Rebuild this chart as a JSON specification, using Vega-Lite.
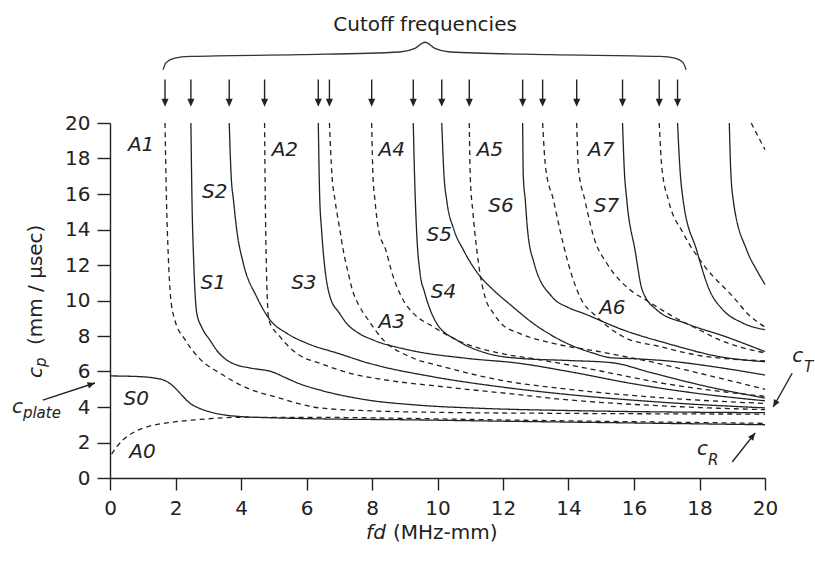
{
  "$schema": "https://vega.github.io/schema/vega-lite/v6.json",
  "width": 655,
  "height": 355,
  "autosize": {"type": "none"},
  "padding": {"left": 110, "top": 123, "right": 50, "bottom": 84},
  "background": "white",
  "config": {
    "view": {"stroke": null},
    "font": "DejaVu Sans",
    "text": {"font": "DejaVu Sans", "color": "#222"},
    "axis": {"labelOverlap": false, "labelSeparation": 0, "labelBound": false, "labelFlush": false, "grid": false},
    "axisY": {"labelOverlap": false, "tickCount": 11}
  },
  "datasets": {
    "curves": [
      {"mode":"S0","family":"S","x":0,"y":5.75},{"mode":"S0","family":"S","x":0.8,"y":5.72},{"mode":"S0","family":"S","x":1.4,"y":5.62},{"mode":"S0","family":"S","x":1.75,"y":5.42},{"mode":"S0","family":"S","x":2.0,"y":5.05},{"mode":"S0","family":"S","x":2.2,"y":4.65},{"mode":"S0","family":"S","x":2.45,"y":4.2},{"mode":"S0","family":"S","x":2.7,"y":3.95},{"mode":"S0","family":"S","x":3.0,"y":3.75},{"mode":"S0","family":"S","x":3.5,"y":3.55},{"mode":"S0","family":"S","x":4.0,"y":3.46},{"mode":"S0","family":"S","x":5.0,"y":3.39},{"mode":"S0","family":"S","x":6.4,"y":3.33},{"mode":"S0","family":"S","x":9,"y":3.28},{"mode":"S0","family":"S","x":12,"y":3.2},{"mode":"S0","family":"S","x":16,"y":3.1},{"mode":"S0","family":"S","x":20,"y":3.0},
      {"mode":"A0","family":"A","x":0.05,"y":1.35},{"mode":"A0","family":"A","x":0.2,"y":1.75},{"mode":"A0","family":"A","x":0.4,"y":2.15},{"mode":"A0","family":"A","x":0.8,"y":2.65},{"mode":"A0","family":"A","x":1.2,"y":2.92},{"mode":"A0","family":"A","x":1.73,"y":3.1},{"mode":"A0","family":"A","x":2.75,"y":3.3},{"mode":"A0","family":"A","x":4.0,"y":3.42},{"mode":"A0","family":"A","x":6,"y":3.42},{"mode":"A0","family":"A","x":9,"y":3.36},{"mode":"A0","family":"A","x":12,"y":3.27},{"mode":"A0","family":"A","x":16,"y":3.17},{"mode":"A0","family":"A","x":20,"y":3.08},
      {"mode":"A1","family":"A","x":1.68,"y":20},{"mode":"A1","family":"A","x":1.72,"y":16},{"mode":"A1","family":"A","x":1.78,"y":12.5},{"mode":"A1","family":"A","x":1.85,"y":10.2},{"mode":"A1","family":"A","x":1.98,"y":8.9},{"mode":"A1","family":"A","x":2.29,"y":7.8},{"mode":"A1","family":"A","x":2.75,"y":6.7},{"mode":"A1","family":"A","x":3.36,"y":5.9},{"mode":"A1","family":"A","x":4.27,"y":5.0},{"mode":"A1","family":"A","x":5.0,"y":4.6},{"mode":"A1","family":"A","x":6.4,"y":3.95},{"mode":"A1","family":"A","x":8,"y":3.78},{"mode":"A1","family":"A","x":10,"y":3.7},{"mode":"A1","family":"A","x":14,"y":3.64},{"mode":"A1","family":"A","x":20,"y":3.6},
      {"mode":"S1","family":"S","x":2.47,"y":20},{"mode":"S1","family":"S","x":2.5,"y":16},{"mode":"S1","family":"S","x":2.56,"y":12},{"mode":"S1","family":"S","x":2.65,"y":9.28},{"mode":"S1","family":"S","x":2.8,"y":8.5},{"mode":"S1","family":"S","x":3.05,"y":7.77},{"mode":"S1","family":"S","x":3.3,"y":7.1},{"mode":"S1","family":"S","x":3.56,"y":6.65},{"mode":"S1","family":"S","x":3.9,"y":6.35},{"mode":"S1","family":"S","x":4.27,"y":6.2},{"mode":"S1","family":"S","x":5.0,"y":5.95},{"mode":"S1","family":"S","x":5.3,"y":5.7},{"mode":"S1","family":"S","x":5.8,"y":5.3},{"mode":"S1","family":"S","x":6.4,"y":4.96},{"mode":"S1","family":"S","x":7.84,"y":4.4},{"mode":"S1","family":"S","x":9.37,"y":4.11},{"mode":"S1","family":"S","x":11.4,"y":3.92},{"mode":"S1","family":"S","x":14,"y":3.8},{"mode":"S1","family":"S","x":17,"y":3.72},{"mode":"S1","family":"S","x":20,"y":3.68},
      {"mode":"A2","family":"A","x":4.72,"y":20},{"mode":"A2","family":"A","x":4.74,"y":16},{"mode":"A2","family":"A","x":4.78,"y":11.5},{"mode":"A2","family":"A","x":4.85,"y":8.9},{"mode":"A2","family":"A","x":5.19,"y":7.96},{"mode":"A2","family":"A","x":5.8,"y":6.9},{"mode":"A2","family":"A","x":6.41,"y":6.46},{"mode":"A2","family":"A","x":7.33,"y":5.9},{"mode":"A2","family":"A","x":8.5,"y":5.5},{"mode":"A2","family":"A","x":9.87,"y":5.2},{"mode":"A2","family":"A","x":12.1,"y":4.77},{"mode":"A2","family":"A","x":14,"y":4.4},{"mode":"A2","family":"A","x":17,"y":4.05},{"mode":"A2","family":"A","x":20,"y":3.85},
      {"mode":"S2","family":"S","x":3.64,"y":20},{"mode":"S2","family":"S","x":3.7,"y":17},{"mode":"S2","family":"S","x":3.77,"y":15.66},{"mode":"S2","family":"S","x":3.87,"y":13.97},{"mode":"S2","family":"S","x":4.07,"y":12.1},{"mode":"S2","family":"S","x":4.48,"y":10.2},{"mode":"S2","family":"S","x":4.89,"y":8.9},{"mode":"S2","family":"S","x":5.4,"y":8.15},{"mode":"S2","family":"S","x":6.0,"y":7.6},{"mode":"S2","family":"S","x":7.0,"y":7.0},{"mode":"S2","family":"S","x":7.84,"y":6.5},{"mode":"S2","family":"S","x":9.87,"y":5.7},{"mode":"S2","family":"S","x":11.9,"y":5.14},{"mode":"S2","family":"S","x":14,"y":4.7},{"mode":"S2","family":"S","x":17,"y":4.25},{"mode":"S2","family":"S","x":20,"y":3.95},
      {"mode":"S3","family":"S","x":6.36,"y":20},{"mode":"S3","family":"S","x":6.4,"y":16},{"mode":"S3","family":"S","x":6.46,"y":13.97},{"mode":"S3","family":"S","x":6.55,"y":12},{"mode":"S3","family":"S","x":6.72,"y":10.2},{"mode":"S3","family":"S","x":7.0,"y":9.3},{"mode":"S3","family":"S","x":7.23,"y":8.7},{"mode":"S3","family":"S","x":7.6,"y":8.15},{"mode":"S3","family":"S","x":8.04,"y":7.77},{"mode":"S3","family":"S","x":9.16,"y":7.2},{"mode":"S3","family":"S","x":10.9,"y":6.74},{"mode":"S3","family":"S","x":12.5,"y":6.46},{"mode":"S3","family":"S","x":14,"y":6.0},{"mode":"S3","family":"S","x":16,"y":5.3},{"mode":"S3","family":"S","x":18,"y":4.75},{"mode":"S3","family":"S","x":20,"y":4.35},
      {"mode":"A3","family":"A","x":6.7,"y":20},{"mode":"A3","family":"A","x":6.78,"y":17},{"mode":"A3","family":"A","x":6.87,"y":15.66},{"mode":"A3","family":"A","x":7.02,"y":13.97},{"mode":"A3","family":"A","x":7.12,"y":12.85},{"mode":"A3","family":"A","x":7.28,"y":11.5},{"mode":"A3","family":"A","x":7.4,"y":10.6},{"mode":"A3","family":"A","x":7.58,"y":9.8},{"mode":"A3","family":"A","x":7.85,"y":9.0},{"mode":"A3","family":"A","x":8.35,"y":7.77},{"mode":"A3","family":"A","x":9.16,"y":6.83},{"mode":"A3","family":"A","x":10.18,"y":6.27},{"mode":"A3","family":"A","x":11.9,"y":5.52},{"mode":"A3","family":"A","x":14,"y":5.0},{"mode":"A3","family":"A","x":17,"y":4.5},{"mode":"A3","family":"A","x":20,"y":4.2},
      {"mode":"A4","family":"A","x":7.99,"y":20},{"mode":"A4","family":"A","x":8.03,"y":17},{"mode":"A4","family":"A","x":8.09,"y":15.66},{"mode":"A4","family":"A","x":8.2,"y":13.97},{"mode":"A4","family":"A","x":8.42,"y":12.85},{"mode":"A4","family":"A","x":8.62,"y":11.5},{"mode":"A4","family":"A","x":8.96,"y":10.0},{"mode":"A4","family":"A","x":9.25,"y":9.3},{"mode":"A4","family":"A","x":9.87,"y":8.52},{"mode":"A4","family":"A","x":10.59,"y":7.77},{"mode":"A4","family":"A","x":11.9,"y":7.03},{"mode":"A4","family":"A","x":13,"y":6.7},{"mode":"A4","family":"A","x":14.5,"y":6.2},{"mode":"A4","family":"A","x":17,"y":5.3},{"mode":"A4","family":"A","x":20,"y":4.6},
      {"mode":"S4","family":"S","x":9.26,"y":20},{"mode":"S4","family":"S","x":9.3,"y":17},{"mode":"S4","family":"S","x":9.36,"y":13.97},{"mode":"S4","family":"S","x":9.47,"y":11.5},{"mode":"S4","family":"S","x":9.6,"y":10.5},{"mode":"S4","family":"S","x":9.98,"y":8.7},{"mode":"S4","family":"S","x":10.59,"y":7.77},{"mode":"S4","family":"S","x":11.5,"y":7.03},{"mode":"S4","family":"S","x":12.5,"y":6.74},{"mode":"S4","family":"S","x":14,"y":6.62},{"mode":"S4","family":"S","x":15.3,"y":6.5},{"mode":"S4","family":"S","x":16.5,"y":5.95},{"mode":"S4","family":"S","x":18,"y":5.25},{"mode":"S4","family":"S","x":20,"y":4.5},
      {"mode":"S5","family":"S","x":10.13,"y":20},{"mode":"S5","family":"S","x":10.2,"y":17},{"mode":"S5","family":"S","x":10.28,"y":15.66},{"mode":"S5","family":"S","x":10.5,"y":14},{"mode":"S5","family":"S","x":10.79,"y":12.85},{"mode":"S5","family":"S","x":11.2,"y":11.6},{"mode":"S5","family":"S","x":11.7,"y":10.6},{"mode":"S5","family":"S","x":12.2,"y":9.8},{"mode":"S5","family":"S","x":12.93,"y":8.7},{"mode":"S5","family":"S","x":13.95,"y":7.59},{"mode":"S5","family":"S","x":14.76,"y":7.03},{"mode":"S5","family":"S","x":15.27,"y":6.78},{"mode":"S5","family":"S","x":16,"y":6.72},{"mode":"S5","family":"S","x":17,"y":6.6},{"mode":"S5","family":"S","x":18.5,"y":6.25},{"mode":"S5","family":"S","x":20,"y":5.8},
      {"mode":"A5","family":"A","x":10.97,"y":20},{"mode":"A5","family":"A","x":11.0,"y":17},{"mode":"A5","family":"A","x":11.08,"y":15},{"mode":"A5","family":"A","x":11.2,"y":12.85},{"mode":"A5","family":"A","x":11.3,"y":11.5},{"mode":"A5","family":"A","x":11.45,"y":10.2},{"mode":"A5","family":"A","x":11.7,"y":9.3},{"mode":"A5","family":"A","x":11.95,"y":8.7},{"mode":"A5","family":"A","x":12.5,"y":8.15},{"mode":"A5","family":"A","x":13.5,"y":7.6},{"mode":"A5","family":"A","x":15,"y":7.1},{"mode":"A5","family":"A","x":16.5,"y":6.55},{"mode":"A5","family":"A","x":18,"y":5.9},{"mode":"A5","family":"A","x":20,"y":5.0},
      {"mode":"S6","family":"S","x":12.6,"y":20},{"mode":"S6","family":"S","x":12.62,"y":17},{"mode":"S6","family":"S","x":12.68,"y":15.66},{"mode":"S6","family":"S","x":12.75,"y":13.97},{"mode":"S6","family":"S","x":12.95,"y":12.1},{"mode":"S6","family":"S","x":13.5,"y":10.2},{"mode":"S6","family":"S","x":14.0,"y":9.6},{"mode":"S6","family":"S","x":14.45,"y":9.28},{"mode":"S6","family":"S","x":15.67,"y":8.34},{"mode":"S6","family":"S","x":17.0,"y":7.59},{"mode":"S6","family":"S","x":18.63,"y":6.83},{"mode":"S6","family":"S","x":20,"y":6.55},
      {"mode":"A6","family":"A","x":13.21,"y":20},{"mode":"A6","family":"A","x":13.3,"y":17.5},{"mode":"A6","family":"A","x":13.54,"y":15.66},{"mode":"A6","family":"A","x":13.74,"y":13.97},{"mode":"A6","family":"A","x":13.99,"y":12.1},{"mode":"A6","family":"A","x":14.35,"y":10.2},{"mode":"A6","family":"A","x":14.86,"y":9.09},{"mode":"A6","family":"A","x":15.67,"y":7.96},{"mode":"A6","family":"A","x":16.8,"y":7.4},{"mode":"A6","family":"A","x":18,"y":6.9},{"mode":"A6","family":"A","x":20,"y":6.6},
      {"mode":"A7","family":"A","x":14.25,"y":20},{"mode":"A7","family":"A","x":14.3,"y":17.5},{"mode":"A7","family":"A","x":14.5,"y":15.66},{"mode":"A7","family":"A","x":14.8,"y":13.4},{"mode":"A7","family":"A","x":15.17,"y":12.1},{"mode":"A7","family":"A","x":15.88,"y":10.6},{"mode":"A7","family":"A","x":16.39,"y":10.0},{"mode":"A7","family":"A","x":17.2,"y":9.09},{"mode":"A7","family":"A","x":18.0,"y":8.34},{"mode":"A7","family":"A","x":18.63,"y":7.77},{"mode":"A7","family":"A","x":19.3,"y":7.35},{"mode":"A7","family":"A","x":20,"y":7.05},
      {"mode":"S7","family":"S","x":15.65,"y":20},{"mode":"S7","family":"S","x":15.7,"y":17.5},{"mode":"S7","family":"S","x":15.78,"y":15.66},{"mode":"S7","family":"S","x":16.03,"y":12.85},{"mode":"S7","family":"S","x":16.25,"y":10.6},{"mode":"S7","family":"S","x":16.7,"y":9.46},{"mode":"S7","family":"S","x":17.6,"y":8.7},{"mode":"S7","family":"S","x":18.8,"y":7.96},{"mode":"S7","family":"S","x":20,"y":7.12},
      {"mode":"A8","family":"A","x":16.77,"y":20},{"mode":"A8","family":"A","x":16.85,"y":17.5},{"mode":"A8","family":"A","x":17.05,"y":15.66},{"mode":"A8","family":"A","x":17.5,"y":13.8},{"mode":"A8","family":"A","x":18.17,"y":11.9},{"mode":"A8","family":"A","x":19.03,"y":10.2},{"mode":"A8","family":"A","x":19.5,"y":9.2},{"mode":"A8","family":"A","x":20,"y":8.5},
      {"mode":"S8","family":"S","x":17.33,"y":20},{"mode":"S8","family":"S","x":17.4,"y":17.5},{"mode":"S8","family":"S","x":17.5,"y":15.66},{"mode":"S8","family":"S","x":17.91,"y":12.85},{"mode":"S8","family":"S","x":18.3,"y":10.6},{"mode":"S8","family":"S","x":18.7,"y":9.5},{"mode":"S8","family":"S","x":19.3,"y":8.75},{"mode":"S8","family":"S","x":20,"y":8.35},
      {"mode":"S9","family":"S","x":18.91,"y":20},{"mode":"S9","family":"S","x":18.95,"y":17.5},{"mode":"S9","family":"S","x":19.03,"y":15.66},{"mode":"S9","family":"S","x":19.44,"y":12.85},{"mode":"S9","family":"S","x":19.75,"y":11.7},{"mode":"S9","family":"S","x":20,"y":10.9},
      {"mode":"A9","family":"A","x":19.58,"y":20},{"mode":"A9","family":"A","x":19.8,"y":19.2},{"mode":"A9","family":"A","x":20,"y":18.5}
    ],
    "cutoffs": [
      {"x":1.68},{"x":2.47},{"x":3.64},{"x":4.72},{"x":6.36},{"x":6.7},{"x":7.99},{"x":9.26},
      {"x":10.13},{"x":10.97},{"x":12.6},{"x":13.21},{"x":14.25},{"x":15.65},{"x":16.77},{"x":17.33}
    ],
    "brace": [
      {"x":1.62,"y":23.0},{"x":1.71,"y":23.4},{"x":1.98,"y":23.65},{"x":2.44,"y":23.75},{"x":5.8,"y":23.85},{"x":8.85,"y":24.0},{"x":9.31,"y":24.2},{"x":9.62,"y":24.55},{"x":9.92,"y":24.2},{"x":10.38,"y":24.0},{"x":13.44,"y":23.85},{"x":16.79,"y":23.75},{"x":17.25,"y":23.65},{"x":17.5,"y":23.4},{"x":17.59,"y":23.0}
    ],
    "modeLabels": [
      {"label":"A1","x":0.95,"y":18.75},{"label":"S2","x":3.2,"y":16.1},{"label":"S1","x":3.15,"y":11.0},
      {"label":"A2","x":5.34,"y":18.5},{"label":"A4","x":8.6,"y":18.5},{"label":"A5","x":11.6,"y":18.5},
      {"label":"A7","x":15.0,"y":18.5},{"label":"S6","x":11.94,"y":15.3},{"label":"S7","x":15.16,"y":15.3},
      {"label":"S5","x":10.05,"y":13.7},{"label":"S3","x":5.92,"y":11.0},{"label":"S4","x":10.18,"y":10.5},
      {"label":"A3","x":8.6,"y":8.8},{"label":"A6","x":15.34,"y":9.55},{"label":"S0","x":0.8,"y":4.45},
      {"label":"A0","x":0.99,"y":1.44}
    ],
    "bigItalic": [
      {"label":"c","x":-2.99,"y":3.66},{"label":"c","x":20.83,"y":6.54},{"label":"c","x":17.92,"y":1.3},{"label":"fd","x":7.82,"y":-3.45}
    ],
    "subItalic": [
      {"label":"plate","x":-2.66,"y":3.38},{"label":"T","x":21.19,"y":5.97},{"label":"R","x":18.26,"y":0.73}
    ],
    "plainLeft": [
      {"label":"(MHz-mm)","x":8.64,"y":-3.45}
    ]
  },
  "layer": [
    {
      "data": {"name": "curves"},
      "mark": {"type": "line", "color": "#222", "strokeWidth": 1.3, "interpolate": "monotone"},
      "encoding": {
        "x": {"field": "x", "type": "quantitative", "scale": {"domain": [0, 20], "nice": false, "zero": false},
          "axis": {"values": [0,2,4,6,8,10,12,14,16,18,20], "title": null, "grid": false, "tickSize": 12, "labelFontSize": 20, "labelFont": "DejaVu Sans", "labelPadding": 8, "labelColor": "#222", "domainColor": "#222", "tickColor": "#222", "domainWidth": 1.4, "tickWidth": 1.4, "labelFlush": false, "labelOverlap": false}},
        "y": {"field": "y", "type": "quantitative", "scale": {"domain": [0, 20], "nice": false, "zero": false},
          "axis": {"values": [0,2,4,6,8,10,12,14,16,18,20], "title": null, "grid": false, "tickSize": 13, "labelFontSize": 20, "labelFont": "DejaVu Sans", "labelPadding": 7, "labelColor": "#222", "domainColor": "#222", "tickColor": "#222", "domainWidth": 1.4, "tickWidth": 1.4, "labelFlush": false, "labelOverlap": false, "labelSeparation": 0}},
        "detail": {"field": "mode", "type": "nominal"},
        "strokeDash": {"field": "family", "type": "nominal", "scale": {"domain": ["S", "A"], "range": [[1, 0], [5, 4]]}, "legend": null}
      }
    },
    {
      "data": {"name": "cutoffs"},
      "mark": {"type": "rule", "color": "#222", "strokeWidth": 1.4},
      "encoding": {
        "x": {"field": "x", "type": "quantitative", "scale": {"domain": [0, 20], "nice": false, "zero": false}},
        "y": {"datum": 22.45, "type": "quantitative", "scale": {"domain": [0, 20], "nice": false, "zero": false}},
        "y2": {"datum": 21.3}
      }
    },
    {
      "data": {"name": "cutoffs"},
      "mark": {"type": "point", "shape": "M0,0L-0.62,-1.4L0.62,-1.4Z", "filled": true, "color": "#222", "opacity": 1, "size": 130},
      "encoding": {
        "x": {"field": "x", "type": "quantitative", "scale": {"domain": [0, 20], "nice": false, "zero": false}},
        "y": {"datum": 20.92, "type": "quantitative", "scale": {"domain": [0, 20], "nice": false, "zero": false}}
      }
    },
    {
      "data": {"name": "brace"},
      "mark": {"type": "line", "color": "#333", "strokeWidth": 1.3, "interpolate": "monotone"},
      "encoding": {
        "x": {"field": "x", "type": "quantitative", "scale": {"domain": [0, 20], "nice": false, "zero": false}},
        "y": {"field": "y", "type": "quantitative", "scale": {"domain": [0, 20], "nice": false, "zero": false}}
      }
    },
    {
      "data": {"values": [{"label": "Cutoff frequencies", "x": 9.62, "y": 25.52}]},
      "mark": {"type": "text", "fontSize": 20, "align": "center", "baseline": "middle"},
      "encoding": {
        "x": {"field": "x", "type": "quantitative"},
        "y": {"field": "y", "type": "quantitative"},
        "text": {"field": "label"}
      }
    },
    {
      "data": {"name": "modeLabels"},
      "mark": {"type": "text", "fontSize": 20, "fontStyle": "italic", "align": "center", "baseline": "middle"},
      "encoding": {
        "x": {"field": "x", "type": "quantitative"},
        "y": {"field": "y", "type": "quantitative"},
        "text": {"field": "label"}
      }
    },
    {
      "data": {"name": "bigItalic"},
      "mark": {"type": "text", "fontSize": 20, "fontStyle": "italic", "align": "left", "baseline": "alphabetic"},
      "encoding": {
        "x": {"field": "x", "type": "quantitative"},
        "y": {"field": "y", "type": "quantitative"},
        "text": {"field": "label"}
      }
    },
    {
      "data": {"name": "subItalic"},
      "mark": {"type": "text", "fontSize": 15, "fontStyle": "italic", "align": "left", "baseline": "alphabetic"},
      "encoding": {
        "x": {"field": "x", "type": "quantitative"},
        "y": {"field": "y", "type": "quantitative"},
        "text": {"field": "label"}
      }
    },
    {
      "data": {"name": "plainLeft"},
      "mark": {"type": "text", "fontSize": 20, "align": "left", "baseline": "alphabetic"},
      "encoding": {
        "x": {"field": "x", "type": "quantitative"},
        "y": {"field": "y", "type": "quantitative"},
        "text": {"field": "label"}
      }
    },
    {
      "data": {"values": [{"label": "c", "x": -2.08, "y": 5.63}]},
      "mark": {"type": "text", "fontSize": 20, "fontStyle": "italic", "angle": 270, "align": "left", "baseline": "alphabetic"},
      "encoding": {
        "x": {"field": "x", "type": "quantitative"},
        "y": {"field": "y", "type": "quantitative"},
        "text": {"field": "label"}
      }
    },
    {
      "data": {"values": [{"label": "p", "x": -1.95, "y": 6.25}]},
      "mark": {"type": "text", "fontSize": 15, "fontStyle": "italic", "angle": 270, "align": "left", "baseline": "alphabetic"},
      "encoding": {
        "x": {"field": "x", "type": "quantitative"},
        "y": {"field": "y", "type": "quantitative"},
        "text": {"field": "label"}
      }
    },
    {
      "data": {"values": [{"label": "(mm / μsec)", "x": -2.08, "y": 7.49}]},
      "mark": {"type": "text", "fontSize": 20, "angle": 270, "align": "left", "baseline": "alphabetic"},
      "encoding": {
        "x": {"field": "x", "type": "quantitative"},
        "y": {"field": "y", "type": "quantitative"},
        "text": {"field": "label"}
      }
    },
    {
      "data": {"values": [
        {"x": -2.05, "y": 4.39, "x2": -0.46, "y2": 5.35},
        {"x": 20.83, "y": 5.9, "x2": 20.25, "y2": 4.0},
        {"x": 19.0, "y": 0.9, "x2": 19.7, "y2": 2.54}
      ]},
      "mark": {"type": "rule", "color": "#222", "strokeWidth": 1.4},
      "encoding": {
        "x": {"field": "x", "type": "quantitative"},
        "y": {"field": "y", "type": "quantitative"},
        "x2": {"field": "x2"},
        "y2": {"field": "y2"}
      }
    },
    {
      "data": {"values": [{"x": -0.46, "y": 5.35}]},
      "mark": {"type": "point", "shape": "M0,0L-0.62,-1.4L0.62,-1.4Z", "filled": true, "color": "#222", "opacity": 1, "size": 110, "angle": 252},
      "encoding": {"x": {"field": "x", "type": "quantitative"}, "y": {"field": "y", "type": "quantitative"}}
    },
    {
      "data": {"values": [{"x": 20.25, "y": 4.0}]},
      "mark": {"type": "point", "shape": "M0,0L-0.62,-1.4L0.62,-1.4Z", "filled": true, "color": "#222", "opacity": 1, "size": 110, "angle": 29},
      "encoding": {"x": {"field": "x", "type": "quantitative"}, "y": {"field": "y", "type": "quantitative"}}
    },
    {
      "data": {"values": [{"x": 19.7, "y": 2.54}]},
      "mark": {"type": "point", "shape": "M0,0L-0.62,-1.4L0.62,-1.4Z", "filled": true, "color": "#222", "opacity": 1, "size": 110, "angle": 218.5},
      "encoding": {"x": {"field": "x", "type": "quantitative"}, "y": {"field": "y", "type": "quantitative"}}
    }
  ]
}
